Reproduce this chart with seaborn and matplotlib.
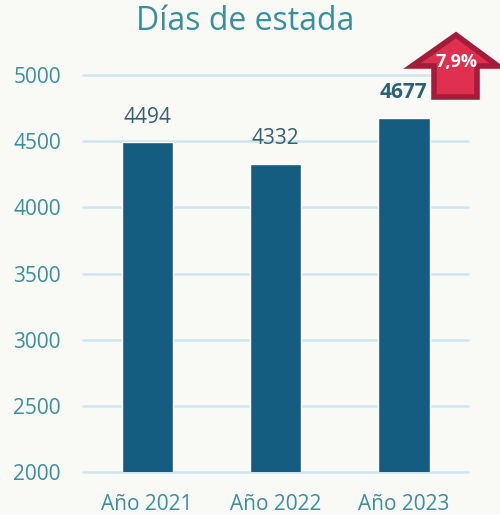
import matplotlib
matplotlib.use("Agg")
import matplotlib.pyplot as plt
from matplotlib.patches import Polygon
import seaborn as sns
import pandas as pd

# data
years = ["Año 2021", "Año 2022", "Año 2023"]
dias = [4494, 4332, 4677]
variacion = "7,9%"
yticks = [2000, 2500, 3000, 3500, 4000, 4500, 5000]

bg = "#f9f9f5"
bar_col = "#145c80"
teal = "#3a8fa0"

sns.set_theme(style="white")
plt.rcParams["font.family"] = ["Open Sans", "DejaVu Sans"]

df = pd.DataFrame({"year": years, "dias": dias})

fig = plt.figure(figsize=(5, 5.15), dpi=100, facecolor=bg)
ax = fig.add_axes([0.166, 0.0835, 0.77, 0.7705])
ax.set_facecolor(bg)

sns.barplot(data=df, x="year", y="dias", color=bar_col, width=0.4, saturation=1, ax=ax, zorder=3)

ax.set_ylim(2000, 5000)
ax.set_xlim(-0.5, 2.5)
ax.set_yticks(yticks)
# light gridlines, drawn by hand so the 2000 line is not clipped
for t in yticks:
    ax.axhline(t, color="#cde6f0", linewidth=1.8, zorder=1, clip_on=False)
for s in ax.spines.values():
    s.set_visible(False)
ax.set_xlabel("")
ax.set_ylabel("")
ax.tick_params(axis="both", length=0, labelsize=15, labelcolor=teal)
ax.tick_params(axis="y", pad=16)
ax.tick_params(axis="x", pad=16)

# value labels
for i, v in enumerate(dias):
    last = i == len(dias) - 1
    ax.annotate(str(v), (i, v), xytext=(0, 18), textcoords="offset points",
                ha="center", va="center", fontsize=15,
                color="#2b6373" if last else "#35606e",
                fontweight="bold" if last else "normal", annotation_clip=False)

fig.text(0.49, 0.958, "Días de estada", ha="center", va="center", fontsize=23, color="#3a8f9c")

# arrow badge in pixel space
ov = fig.add_axes([0, 0, 1, 1], facecolor="none")
ov.set_xlim(0, 500)
ov.set_ylim(515, 0)
ov.axis("off")
arrow = [(456, 35), (498, 66), (477, 66), (477, 97), (434, 97), (434, 66), (412, 66)]
ov.add_patch(Polygon(arrow, closed=True, facecolor="#e0304f", edgecolor="#a51c3a", linewidth=4, joinstyle="miter"))
ov.text(456, 62, variacion, ha="center", va="center", fontsize=13, color="white", fontweight="bold")

fig.savefig("out.png", dpi=100, facecolor=bg)
